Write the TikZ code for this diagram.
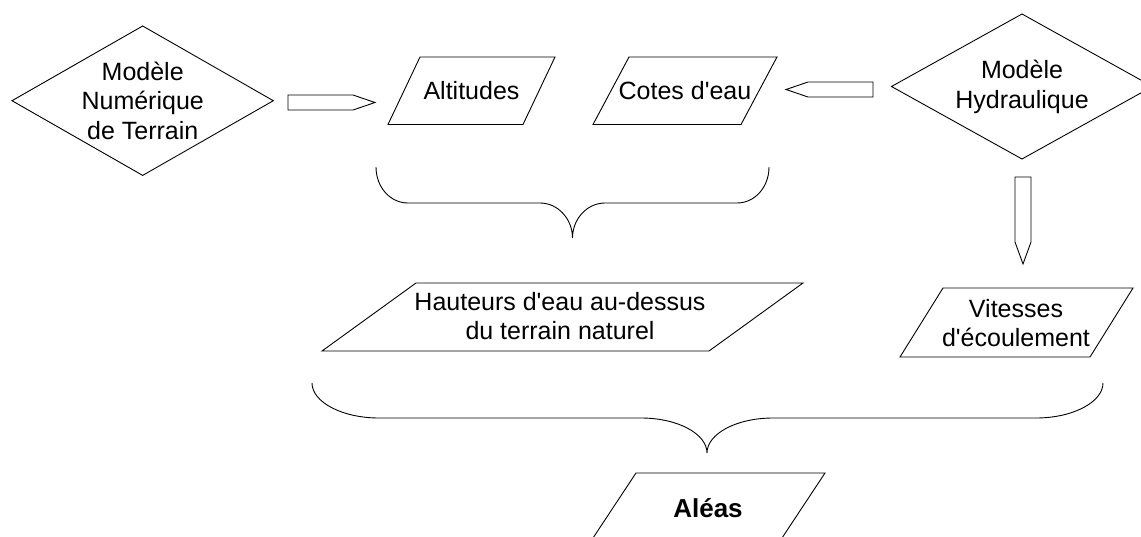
\documentclass[tikz,border=0pt]{standalone}
\usepackage{fontspec}
\setmainfont{Liberation Sans}
\newcommand{\apos}{\textquotesingle}
\begin{document}
\begin{tikzpicture}[x=1pt, y=-1pt, line width=0.9pt, line join=miter,
  lbl/.style={font=\fontsize{25}{29.5}\selectfont, align=center, inner sep=0pt},
  shp/.style={draw=black, fill=white},
  blockarrow/.style={draw=black, fill=white},
  curlybrace/.style={draw=black}]
\useasboundingbox (0,0) rectangle (1141,536);
\fill[white] (0,0) rectangle (1141,536);

% decision shapes (models)
\draw[shp] (12,100.7) -- (142.7,26) -- (273.3,100.7) -- (142.7,175.4) -- cycle;
\node[lbl] (mnt) at (142.7,100.7) {Modèle\\Numérique\\de Terrain};

\draw[shp] (891.5,86.5) -- (1022,14) -- (1152.5,86.5) -- (1022,159) -- cycle;
\node[lbl] (mh) at (1022,87) {Modèle\\Hydraulique};

% data shapes
\draw[shp] (420,57) -- (555,57) -- (523,124.5) -- (388,124.5) -- cycle;
\node[lbl] (alt) at (471.5,91) {Altitudes};

\draw[shp] (629,57) -- (777,57) -- (741,124.5) -- (593,124.5) -- cycle;
\node[lbl] (cote) at (685,91) {Cotes d\apos eau};

\draw[shp] (416,283) -- (803,283) -- (709,351) -- (322,351) -- cycle;
\node[lbl] (haut) at (560,316) {Hauteurs d\apos eau au-dessus\\du terrain naturel};

\draw[shp] (943,288) -- (1133,288) -- (1090,357) -- (900,357) -- cycle;
\node[lbl] (vit) at (1016,323) {Vitesses\\d\apos écoulement};

\draw[shp] (636,473) -- (825,473) -- (780,541) -- (591,541) -- cycle;
\node[lbl, font=\fontsize{26}{30}\selectfont\bfseries] (alea) at (708,508) {Aléas};

% block arrows
\draw[blockarrow] (288,95) -- (353,95) -- (375,102.5) -- (353,110) -- (288,110) -- cycle;
\draw[blockarrow] (873,82) -- (808,82) -- (786,89.5) -- (808,97) -- (873,97) -- cycle;
\draw[blockarrow] (1015,177) -- (1031,177) -- (1031,242) -- (1023,264) -- (1015,242) -- cycle;

% curly braces
\draw[curlybrace] (376,167) .. controls (376,187) and (390,203) .. (408,203)
  -- (540,203) .. controls (558,203) and (572.5,219) .. (572.5,238)
  .. controls (572.5,219) and (587,203) .. (605,203)
  -- (737,203) .. controls (755,203) and (769,187) .. (769,167);

\draw[curlybrace] (312,383) .. controls (312,402) and (342,418) .. (379,418)
  -- (641,418) .. controls (678,418) and (707,434) .. (707,453)
  .. controls (707,434) and (736,418) .. (773,418)
  -- (1036,418) .. controls (1073,418) and (1103,402) .. (1103,383);
\end{tikzpicture}
\end{document}
